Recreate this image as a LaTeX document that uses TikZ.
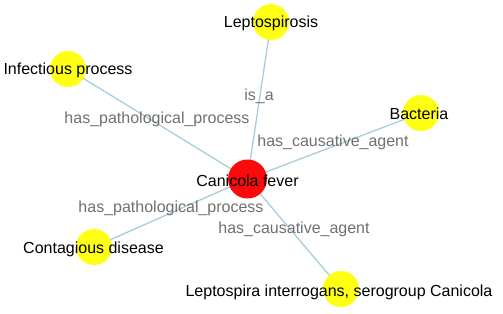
\documentclass[tikz,border=0pt]{standalone}
\usepackage{fontspec}
\setmainfont{Liberation Sans}
\definecolor{edgeblue}{RGB}{168,206,222}
\definecolor{lblgray}{RGB}{112,112,112}
\definecolor{nodeyellow}{RGB}{255,255,20}
\definecolor{nodered}{RGB}{250,10,10}
\begin{document}
\begin{tikzpicture}[x=1bp,y=-1bp,
  ynode/.style={circle,fill=nodeyellow,draw=none,minimum size=36bp,inner sep=0pt},
  rnode/.style={circle,fill=nodered,draw=none,minimum size=39bp,inner sep=0pt},
  ntext/.style={font=\fontsize{16bp}{19bp}\selectfont,text=black,inner sep=0pt},
  etext/.style={font=\fontsize{16bp}{19bp}\selectfont,text=lblgray,inner sep=0pt},
  edge/.style={draw=edgeblue,line width=1.3bp}]
\useasboundingbox[fill=white] (0,0) rectangle (503,313);
\coordinate (pcf) at (247.5,179);
\coordinate (plep) at (271,22);
\coordinate (pinf) at (68,69);
\coordinate (pbac) at (421,113);
\coordinate (pcon) at (94,247);
\coordinate (plic) at (341,289);
\draw[edge] (pcf) -- (plep);
\draw[edge] (pcf) -- (pinf);
\draw[edge] (pcf) -- (pbac);
\draw[edge] (pcf) -- (pcon);
\draw[edge] (pcf) -- (plic);
\node[rnode] (cf) at (pcf) {};
\node[ynode] (lep) at (plep) {};
\node[ynode] (inf) at (pinf) {};
\node[ynode] (bac) at (pbac) {};
\node[ynode] (con) at (pcon) {};
\node[ynode] (lic) at (plic) {};
\node[etext] (l1) at (259,96) {is\_a};
\node[etext] (l2) at (157,119) {has\_pathological\_process};
\node[etext] (l3) at (333,142) {has\_causative\_agent};
\node[etext] (l4) at (171,208) {has\_pathological\_process};
\node[etext] (l5) at (294,229) {has\_causative\_agent};
\node[ntext] (t1) at (271,23) {Leptospirosis};
\node[ntext] (t2) at (68,70) {Infectious process};
\node[ntext] (t3) at (419,114) {Bacteria};
\node[ntext] (t4) at (247.5,181) {Canicola fever};
\node[ntext] (t5) at (93.5,249) {Contagious disease};
\node[ntext] (t6) at (339,292) {Leptospira interrogans, serogroup Canicola};
\end{tikzpicture}
\end{document}
